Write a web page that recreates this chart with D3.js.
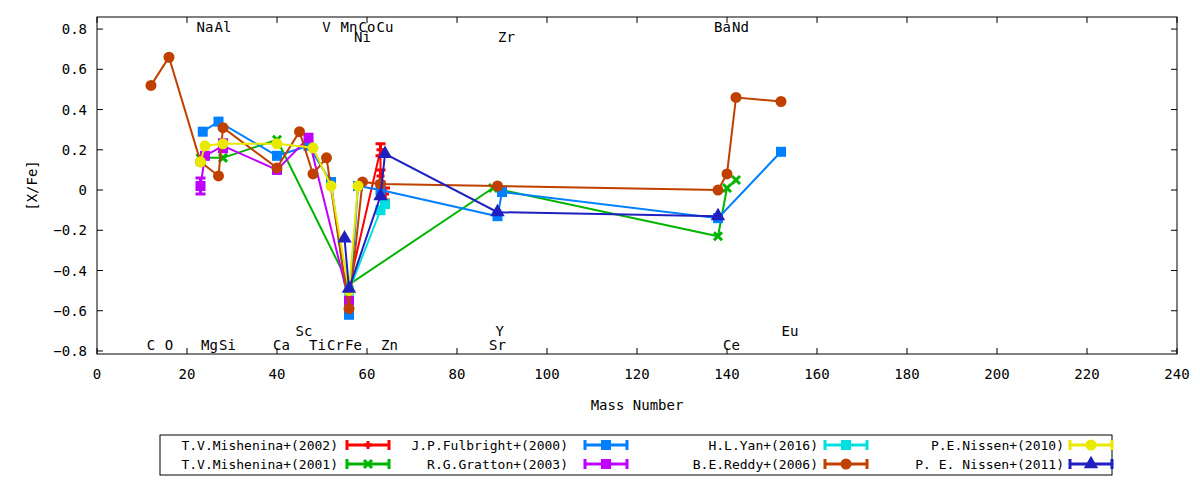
<!DOCTYPE html>
<html><head><meta charset="utf-8">
<script src="https://cdn.jsdelivr.net/npm/d3@7"></script>
<style>body{margin:0;background:#fff}text{font-family:"DejaVu Sans Mono",monospace;font-size:14px}</style>
</head><body><svg id="vis" width="1200" height="480"></svg>
<script>
// data: [mass, [X/Fe], error]
const mishenina2002 = [[56,-0.48,0.03],[63,0.2,0.03],[63,0.07,0.03],[64,-0.02,0.03]]
const mishenina2001 = [[23,0.16],[28,0.16],[40,0.25],[56,-0.47],[88,0.01],[138,-0.23],[140,0.01],[142,0.05]]
const fulbright2000 = [[23.5,0.29],[27,0.34],[40,0.17],[47,0.22],[52,0.04],[56,-0.62],[58,0.02],[63,0],[89,-0.13],[90,-0.01],[138,-0.14],[152,0.19]]
const gratton2003 = [[23,0.02,0.04],[24,0.17],[28,0.22,0.03],[40,0.1],[47,0.26],[56,-0.55]]
const yan2016 = [[56,-0.5],[63,-0.1],[64,-0.07]]
const reddy2006 = [[12,0.52],[16,0.66],[23,0.14],[27,0.07],[28,0.31],[40,0.11],[45,0.29],[48,0.08],[51,0.16],[56,-0.59],[59,0.04],[63,0.03],[89,0.02],[138,0],[140,0.08],[142,0.46],[152,0.44]]
const nissen2010 = [[23,0.14],[24,0.22],[28,0.23],[40,0.23],[48,0.21],[52,0.02],[56,-0.5],[58,0.02]]
const nissen2011 = [[55,-0.24],[56,-0.49],[63,-0.03],[64,0.18],[89,-0.11],[138,-0.13]]

const seriesNames = ["T.V.Mishenina+(2002)","T.V.Mishenina+(2001)","J.P.Fulbright+(2000)","R.G.Gratton+(2003)","H.L.Yan+(2016)","B.E.Reddy+(2006)","P.E.Nissen+(2010)","P. E. Nissen+(2011)"]
const seriesData = [mishenina2002,mishenina2001,fulbright2000,gratton2003,yan2016,reddy2006,nissen2010,nissen2011]
const seriesColors = ["#ff0000","#00b400","#0080ff","#c000ff","#00e0e0","#c04000","#e8e800","#2020c0"]
const seriesMarks = ["plus","cross","square","square","square","circle","circle","triangle"]

// element labels: [name, x, y]
const elemLabels = [["C",12,-0.77],["O",16,-0.77],["Mg",25,-0.77],["Si",29,-0.77],["Ca",41,-0.77],["Ti",49,-0.77],["Cr",53,-0.77],["Fe",57,-0.77],["Zn",65,-0.77],["Sr",89,-0.77],["Ce",141,-0.77],
  ["Sc",46,-0.7],["Y",89.5,-0.7],["Eu",154,-0.7],
  ["Na",24,0.81],["Al",28,0.81],["V",51,0.81],["Mn",56,0.81],["Co",60,0.81],["Cu",64,0.81],["Ba",139,0.81],["Nd",143,0.81],
  ["Ni",59,0.76],["Zr",91,0.76]]

const xTicks = d3.range(0, 241, 20)
const yTicks = [-0.8,-0.6,-0.4,-0.2,0,0.2,0.4,0.6,0.8]

const svg = d3.select("#vis")
const L = 97, R = 1177, T = 17, B = 354
const x = d3.scaleLinear().domain([0,240]).range([L,R])
const y = d3.scaleLinear().domain([-0.815,0.86]).range([B,T])

svg.append("rect").attr("x",L).attr("y",T).attr("width",R-L).attr("height",B-T).attr("fill","none").attr("stroke","#000")

xTicks.forEach(t => {
  svg.append("line").attr("x1",x(t)).attr("x2",x(t)).attr("y1",B).attr("y2",B-6).attr("stroke","#000")
  svg.append("line").attr("x1",x(t)).attr("x2",x(t)).attr("y1",T).attr("y2",T+6).attr("stroke","#000")
  svg.append("text").attr("x",x(t)).attr("y",B+25).attr("text-anchor","middle").text(t)
})
yTicks.forEach(t => {
  svg.append("line").attr("x1",L).attr("x2",L+6).attr("y1",y(t)).attr("y2",y(t)).attr("stroke","#000")
  svg.append("line").attr("x1",R).attr("x2",R-6).attr("y1",y(t)).attr("y2",y(t)).attr("stroke","#000")
  svg.append("text").attr("x",L-10).attr("y",y(t)+5).attr("text-anchor","end").text(t===0?"0":d3.format(".1f")(t))
})
svg.append("text").attr("x",(L+R)/2).attr("y",410).attr("text-anchor","middle").text("Mass Number")
svg.append("text").attr("transform",`translate(37,${(T+B)/2}) rotate(-90)`).attr("text-anchor","middle").text("[X/Fe]")

elemLabels.forEach(d => {
  svg.append("text").attr("x",x(d[1])).attr("y",y(d[2])+5).attr("text-anchor","middle").text(d[0])
})

function marker(g, type, cx, cy, col) {
  if (type === "square") g.append("rect").attr("x",cx-5).attr("y",cy-5).attr("width",10).attr("height",10).attr("fill",col)
  else if (type === "circle") g.append("circle").attr("cx",cx).attr("cy",cy).attr("r",5.5).attr("fill",col)
  else if (type === "triangle") g.append("path").attr("d",d3.symbol(d3.symbolTriangle,90)()).attr("transform",`translate(${cx},${cy})`).attr("fill",col)
  else {
    const s = 4
    const p = type === "plus" ? `M${cx-s},${cy}H${cx+s}M${cx},${cy-s}V${cy+s}` : `M${cx-s},${cy-s}L${cx+s},${cy+s}M${cx-s},${cy+s}L${cx+s},${cy-s}`
    g.append("path").attr("d",p).attr("stroke",col).attr("stroke-width",3)
  }
}

const line = d3.line().x(d => x(d[0])).y(d => y(d[1]))
seriesData.forEach((data, i) => {
  const col = seriesColors[i]
  const g = svg.append("g")
  g.append("path").attr("d",line(data)).attr("fill","none").attr("stroke",col).attr("stroke-width",2)
  data.forEach(d => {
    if (d[2]) {
      const e = d[2]
      g.append("path").attr("d",`M${x(d[0])},${y(d[1]-e)}V${y(d[1]+e)}M${x(d[0])-5},${y(d[1]-e)}h10M${x(d[0])-5},${y(d[1]+e)}h10`).attr("stroke",col).attr("stroke-width",3)
    }
    marker(g, seriesMarks[i], x(d[0]), y(d[1]), col)
  })
})

// legend
svg.append("rect").attr("x",160).attr("y",435).attr("width",952).attr("height",40).attr("fill","#fff").attr("stroke","#000")
const colTextX = [338,568,818,1064], colSampleX = [347,585,825,1070]
seriesNames.forEach((n, i) => {
  const c = Math.floor(i/2), r = i%2
  const ly = 445 + r*19
  svg.append("text").attr("x",colTextX[c]).attr("y",ly+5).attr("text-anchor","end").style("font-size","13px").text(n)
  const x0 = colSampleX[c], x1 = x0+42, col = seriesColors[i]
  svg.append("path").attr("d",`M${x0},${ly}H${x1}M${x0},${ly-5}v10M${x1},${ly-5}v10`).attr("stroke",col).attr("stroke-width",3)
  marker(svg, seriesMarks[i], (x0+x1)/2, ly, col)
})
</script></body></html>
